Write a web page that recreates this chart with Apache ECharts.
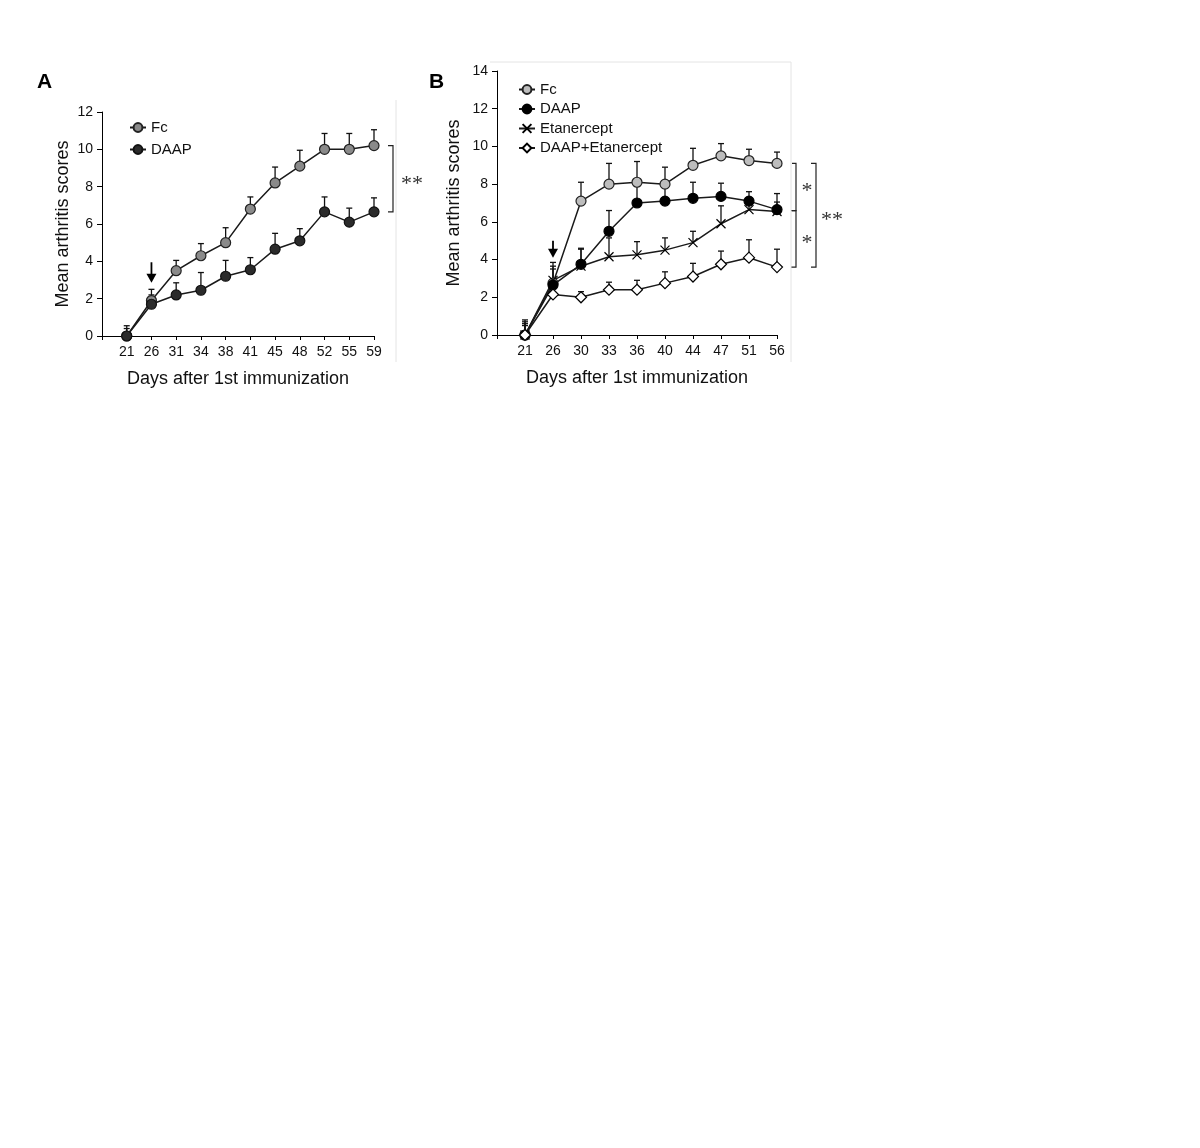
<!DOCTYPE html>
<html>
<head>
<meta charset="utf-8">
<title>Mean arthritis scores</title>
<script src="https://cdn.jsdelivr.net/npm/echarts@6/dist/echarts.min.js"></script>
<style>
  html, body { margin: 0; padding: 0; background: #fff; }
  #main { width: 1200px; height: 1148px; }
</style>
</head>
<body>
<div id="main"></div>
<script>
// panel A
const daysA = ['21', '26', '31', '34', '38', '41', '45', '48', '52', '55', '59'];
const fcA = [0, 1.9, 3.5, 4.3, 5.0, 6.8, 8.2, 9.1, 10.0, 10.0, 10.2];
const fcAErr = [0.55, 0.6, 0.55, 0.65, 0.8, 0.65, 0.85, 0.85, 0.85, 0.85, 0.85];
const daapA = [0, 1.7, 2.2, 2.45, 3.2, 3.55, 4.65, 5.1, 6.65, 6.1, 6.65];
const daapAErr = [0.4, 0.5, 0.65, 0.95, 0.85, 0.65, 0.85, 0.65, 0.8, 0.75, 0.75];

// panel B
const daysB = ['21', '26', '30', '33', '36', '40', '44', '47', '51', '56'];
const fcB = [0, 2.75, 7.1, 8.0, 8.1, 8.0, 9.0, 9.5, 9.25, 9.1];
const fcBErr = [0.8, 1.1, 1.0, 1.1, 1.1, 0.9, 0.9, 0.65, 0.6, 0.6];
const daapB = [0, 2.65, 3.75, 5.5, 7.0, 7.1, 7.25, 7.35, 7.1, 6.65];
const daapBErr = [0.7, 1.0, 0.85, 1.1, 0.9, 0.8, 0.85, 0.7, 0.5, 0.85];
const etanB = [0, 2.9, 3.65, 4.15, 4.25, 4.5, 4.9, 5.9, 6.65, 6.55];
const etanBErr = [0.6, 0.6, 0.9, 1.0, 0.7, 0.65, 0.6, 0.95, 0.3, 0.5];
const comboB = [0, 2.15, 2.0, 2.4, 2.4, 2.75, 3.1, 3.75, 4.1, 3.6];
const comboBErr = [0.5, 0.6, 0.3, 0.4, 0.5, 0.6, 0.7, 0.7, 0.95, 0.95];

const FONT = 'Liberation Sans, Arial, sans-serif';

const chart = echarts.init(document.getElementById('main'));

const lineData = vals => vals.map((v, i) => [i + 1, v]);
const errData = (vals, errs) => vals.map((v, i) => [i + 1, v, errs[i]]);

// upward error bar with a cap
function renderErr(params, api) {
  const p0 = api.coord([api.value(0), api.value(1)]);
  const p1 = api.coord([api.value(0), api.value(1) + api.value(2)]);
  const st = { stroke: '#111', lineWidth: 1.3 };
  return {
    type: 'group',
    children: [
      { type: 'line', shape: { x1: p0[0], y1: p0[1], x2: p1[0], y2: p1[1] }, style: st },
      { type: 'line', shape: { x1: p1[0] - 3, y1: p1[1], x2: p1[0] + 3, y2: p1[1] }, style: st }
    ]
  };
}

function errSeries(g, vals, errs) {
  return {
    type: 'custom', xAxisIndex: g, yAxisIndex: g, z: 1,
    renderItem: renderErr, encode: { x: 0, y: 1 },
    data: errData(vals, errs), silent: true
  };
}

function lineSeries(g, name, vals, symbol, size, fill, border) {
  return {
    type: 'line', name: name, xAxisIndex: g, yAxisIndex: g, z: 3,
    data: lineData(vals),
    symbol: symbol, symbolSize: size, showAllSymbol: true,
    lineStyle: { color: '#1a1a1a', width: 1.5 },
    itemStyle: { color: fill, borderColor: border, borderWidth: 1.2, opacity: 1 }
  };
}

const xAxisBase = {
  type: 'category', boundaryGap: false,
  axisLine: { lineStyle: { color: '#000', width: 1 } },
  axisTick: { show: true, length: 4, interval: 0, lineStyle: { color: '#000' } },
  axisLabel: { interval: 0, color: '#111', fontSize: 14, fontFamily: FONT, margin: 9 },
  splitLine: { show: false },
  name: 'Days after 1st immunization', nameLocation: 'middle',
  nameTextStyle: { color: '#111', fontSize: 18, fontFamily: FONT }
};
const yAxisBase = {
  type: 'value', min: 0, interval: 2,
  axisLine: { show: true, lineStyle: { color: '#000', width: 1 } },
  axisTick: { show: true, length: 5, lineStyle: { color: '#000' } },
  axisLabel: { color: '#111', fontSize: 14, fontFamily: FONT, margin: 9 },
  splitLine: { show: false },
  name: 'Mean arthritis scores', nameLocation: 'middle',
  nameTextStyle: { color: '#111', fontSize: 18, fontFamily: FONT }
};

const xPath = 'path://M0,0L10,10M10,0L0,10';

const option = {
  animation: false,
  backgroundColor: '#fff',
  grid: [
    { left: 102, top: 112, width: 272, height: 224 },
    { left: 497, top: 71, width: 280, height: 264 }
  ],
  xAxis: [
    Object.assign({}, xAxisBase, { gridIndex: 0, data: [''].concat(daysA), nameGap: 34 }),
    Object.assign({}, xAxisBase, { gridIndex: 1, data: [''].concat(daysB), nameGap: 34 })
  ],
  yAxis: [
    Object.assign({}, yAxisBase, { gridIndex: 0, max: 12, nameGap: 30 }),
    Object.assign({}, yAxisBase, { gridIndex: 1, max: 14, nameGap: 34 })
  ],
  legend: [
    {
      orient: 'vertical', left: 124, top: 115, itemWidth: 16, itemHeight: 11, itemGap: 7,
      data: ['Fc', 'DAAP'],
      textStyle: { color: '#111', fontSize: 15, fontFamily: FONT },
      formatter: n => n.trim()
    },
    {
      orient: 'vertical', left: 513, top: 77, itemWidth: 16, itemHeight: 11, itemGap: 4.5,
      data: ['Fc ', 'DAAP ', 'Etanercept', 'DAAP+Etanercept'],
      textStyle: { color: '#111', fontSize: 15, fontFamily: FONT },
      formatter: n => n.trim()
    }
  ],
  series: [
    errSeries(0, fcA, fcAErr),
    errSeries(0, daapA, daapAErr),
    lineSeries(0, 'Fc', fcA, 'circle', 10, '#8a8a8a', '#222'),
    lineSeries(0, 'DAAP', daapA, 'circle', 10, '#2b2b2b', '#111'),
    errSeries(1, fcB, fcBErr),
    errSeries(1, daapB, daapBErr),
    errSeries(1, etanB, etanBErr),
    errSeries(1, comboB, comboBErr),
    lineSeries(1, 'Fc ', fcB, 'circle', 10, '#bdbdbd', '#222'),
    lineSeries(1, 'DAAP ', daapB, 'circle', 10, '#000', '#000'),
    lineSeries(1, 'Etanercept', etanB, xPath, 9, '#000', '#000'),
    lineSeries(1, 'DAAP+Etanercept', comboB, 'diamond', 11, '#fff', '#000')
  ]
};
chart.setOption(option);

// annotations placed from the data through the axes
const px = (g, i, v) => chart.convertToPixel({ xAxisIndex: g, yAxisIndex: g }, [i, v]);
const st = { stroke: '#222', lineWidth: 1.2, fill: null };
const graphics = [];

function arrow(g, idx, v0, v1) {
  const a = px(g, idx, v0), b = px(g, idx, v1);
  graphics.push({ type: 'line', shape: { x1: a[0], y1: a[1], x2: b[0], y2: b[1] - 6 }, style: { stroke: '#000', lineWidth: 1.8 } });
  graphics.push({ type: 'polygon', shape: { points: [[b[0] - 5, b[1] - 9], [b[0] + 5, b[1] - 9], [b[0], b[1]]] }, style: { fill: '#000' } });
}
arrow(0, 2, 3.95, 2.85);
arrow(1, 2, 5.0, 4.1);

function bracket(x, y0, y1, w) {
  graphics.push({ type: 'polyline', shape: { points: [[x - w, y0], [x, y0], [x, y1], [x - w, y1]] }, style: st });
}
function stars(x, y, t) {
  graphics.push({ type: 'text', x: x, y: y, style: { text: t, font: '22px Liberation Serif, Times New Roman, serif', fill: '#333', textAlign: 'center', textVerticalAlign: 'middle' } });
}

const aTop = px(0, daysA.length, fcA[fcA.length - 1]);
const aBot = px(0, daysA.length, daapA[daapA.length - 1]);
bracket(aTop[0] + 19, aTop[1], aBot[1], 5);
stars(aTop[0] + 38, (aTop[1] + aBot[1]) / 2 + 5, '**');

const bTop = px(1, daysB.length, fcB[fcB.length - 1]);
const bMid = px(1, daysB.length, daapB[daapB.length - 1]);
const bBot = px(1, daysB.length, comboB[comboB.length - 1]);
bracket(bTop[0] + 19, bTop[1], bMid[1] + 1, 4);
bracket(bTop[0] + 19, bMid[1] + 1, bBot[1], 5);
bracket(bTop[0] + 39, bTop[1], bBot[1], 5);
stars(bTop[0] + 30, (bTop[1] + bMid[1]) / 2 + 5, '*');
stars(bTop[0] + 30, (bMid[1] + bBot[1]) / 2 + 5, '*');
stars(bTop[0] + 55, (bTop[1] + bBot[1]) / 2 + 5, '**');

// panel letters
graphics.push({ type: 'text', left: 37, top: 72, style: { text: 'A', font: 'bold 21px ' + FONT, fill: '#000' } });
graphics.push({ type: 'text', left: 429, top: 72, style: { text: 'B', font: 'bold 21px ' + FONT, fill: '#000' } });

// faint frame edges of the original panels
const faint = { stroke: '#e4e4e4', lineWidth: 1 };
graphics.push({ type: 'line', shape: { x1: 396, y1: 100, x2: 396, y2: 362 }, style: faint });
graphics.push({ type: 'line', shape: { x1: 490, y1: 62, x2: 791, y2: 62 }, style: faint });
graphics.push({ type: 'line', shape: { x1: 791, y1: 62, x2: 791, y2: 362 }, style: faint });

chart.setOption({ graphic: graphics });
</script>
</body>
</html>
